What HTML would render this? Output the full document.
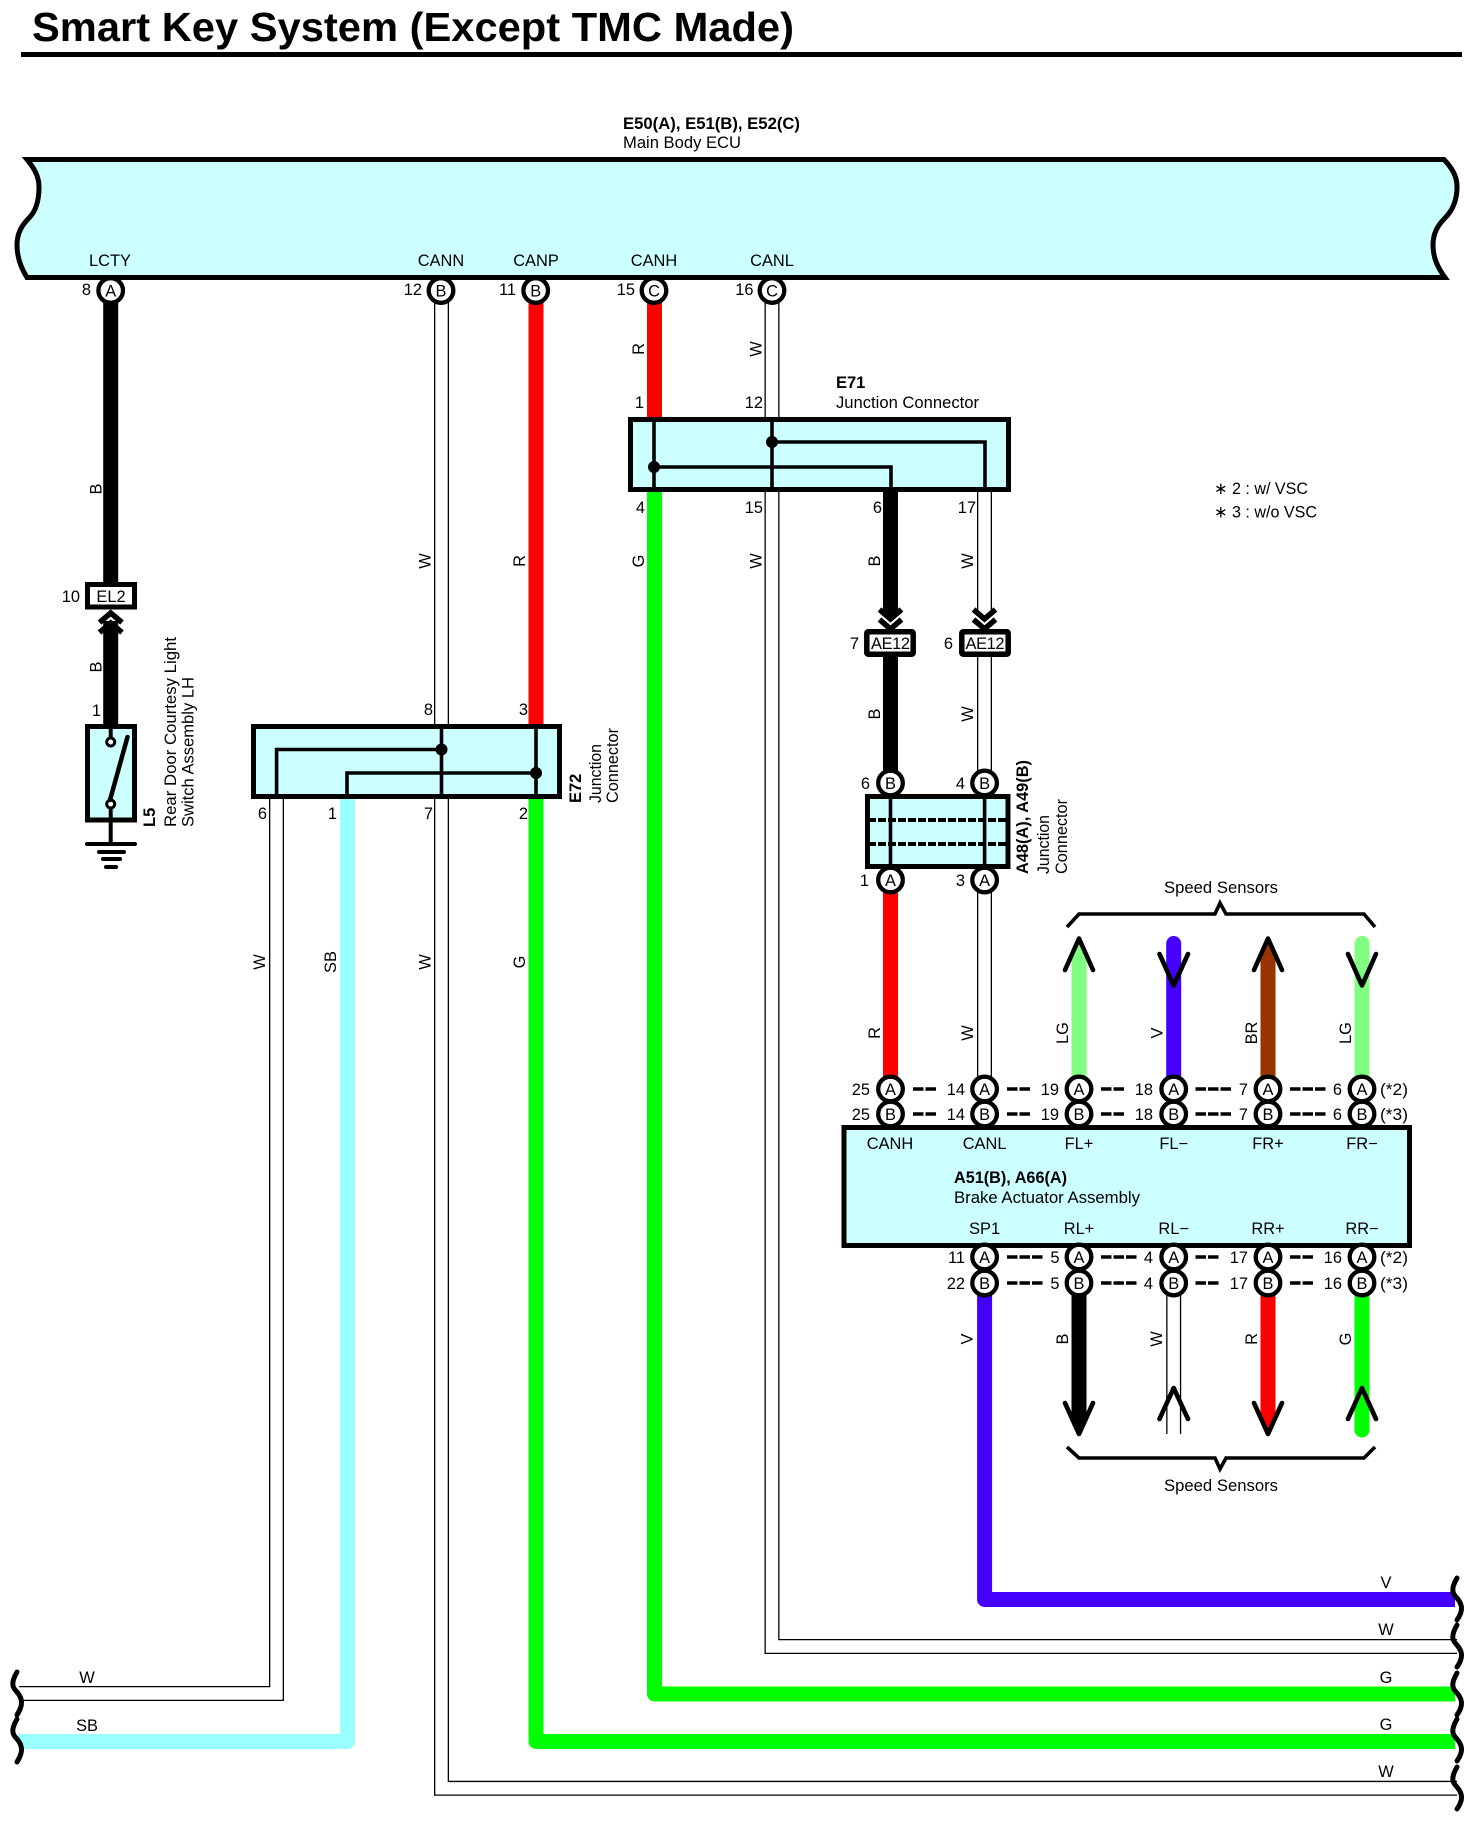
<!DOCTYPE html>
<html>
<head>
<meta charset="utf-8">
<title>Smart Key System (Except TMC Made)</title>
<style>
html,body{margin:0;padding:0;background:#fff;width:1476px;height:1822px;overflow:hidden}
svg{display:block}
text{font-family:"Liberation Sans",Arial,sans-serif;font-size:16.4px;fill:#000}
.m{text-anchor:middle}
.r{text-anchor:end}
.b{font-weight:bold;font-size:16.5px}
.wire{fill:none;stroke-linejoin:round}
.wb{fill:none;stroke:#000;stroke-width:15;stroke-linejoin:miter}
.ww{fill:none;stroke:#fff;stroke-width:12.4;stroke-linejoin:miter}
.box{fill:#ccffff;stroke:#000;stroke-width:5}
.in{fill:none;stroke:#000;stroke-width:3.6}
.pin circle{fill:#fff;stroke:#000;stroke-width:4.3}
.arr{fill:none;stroke:#000;stroke-width:4.6;stroke-linecap:round;stroke-linejoin:round}
.chev{fill:none;stroke:#000;stroke-width:5.5;stroke-linejoin:miter}
.dash{fill:none;stroke:#000;stroke-width:3.4;stroke-dasharray:10.5 2}
.sq{fill:none;stroke:#000;stroke-width:5;stroke-linecap:round}
</style>
</head>
<body>
<svg width="1476" height="1822" viewBox="0 0 1476 1822" xmlns="http://www.w3.org/2000/svg">
<rect width="1476" height="1822" fill="#fff"/>

<!-- Title -->
<text x="32" y="41" textLength="762" lengthAdjust="spacingAndGlyphs" style="font-size:41px;font-weight:bold">Smart Key System (Except TMC Made)</text>
<rect x="21" y="52" width="1441" height="5" fill="#000"/>

<!-- Main ECU -->
<text x="623" y="129" textLength="177" lengthAdjust="spacingAndGlyphs" class="b">E50(A), E51(B), E52(C)</text>
<text x="623" y="148" textLength="118" lengthAdjust="spacingAndGlyphs">Main Body ECU</text>
<path d="M27 159.5 L1444 159.5 C1452 168 1457 176 1457 187 C1457 203 1451 212 1445 218 C1438 225 1433 233 1433 245 C1433 258 1438 268 1445 277.5 L27 277.5 C21 268 17 258 17 245 C17 233 22 225 29 218 C35 212 39 203 39 187 C39 176 34 168 27 159.5 Z" fill="#ccffff" stroke="#000" stroke-width="5"/>

<!-- Coloured wires -->
<g class="wire" stroke-width="15">
  <path d="M110.7 289 V582" stroke="#000"/>
  <path d="M110.7 621 V726" stroke="#000"/>
  <path d="M536 289 V726" stroke="#ff0000"/>
  <path d="M654.5 289 V419" stroke="#ff0000"/>
  <path d="M654.5 490 V1694 H1455" stroke="#00ff00"/>
  <path d="M536 797 V1741.5 H1455" stroke="#00ff00"/>
  <path d="M18 1741.5 H347.5 V797" stroke="#99ffff"/>
  <path d="M984.6 1283 V1599.5 H1455" stroke="#4400ff"/>
  <path d="M890.5 490 V616" stroke="#000"/>
  <path d="M890.5 655 V783" stroke="#000"/>
  <path d="M890.5 880 V1089" stroke="#ff0000"/>
  <path d="M1173.7 943.5 V1089" stroke="#4400ff" stroke-linecap="round"/>
  <path d="M1362 943.5 V1089" stroke="#80ff80" stroke-linecap="round"/>
  <path d="M1362 1283 V1430" stroke="#00ff00" stroke-linecap="round"/>
</g>
<!-- Wires tapered into arrow heads -->
<path d="M1071.5 1089 V955 L1079 938.5 L1086.5 955 V1089 Z" fill="#80ff80"/>
<path d="M1260.5 1089 V955 L1268 938.5 L1275.5 955 V1089 Z" fill="#993300"/>
<path d="M1071.5 1283 V1418 L1079 1434 L1086.5 1418 V1283 Z" fill="#000"/>
<path d="M1260.5 1283 V1418 L1268 1434 L1275.5 1418 V1283 Z" fill="#ff0000"/>

<!-- White wires (double outlines) -->
<path class="wb" d="M441.5 289 V1788.3 H1457"/><path class="ww" d="M441.5 289 V1788.3 H1457.5"/>
<path class="wb" d="M772 289 V1646.5 H1457"/><path class="ww" d="M772 289 V1646.5 H1457.5"/>
<path class="wb" d="M276.5 797 V1693.5 H19"/><path class="ww" d="M276.5 797 V1693.5 H18.5"/>
<path class="wb" d="M984.5 490 V616"/><path class="ww" d="M984.5 490 V616"/>
<path class="wb" d="M984.5 655 V783"/><path class="ww" d="M984.5 655 V783"/>
<path class="wb" d="M984.5 880 V1089"/><path class="ww" d="M984.5 880 V1089"/>
<path class="wb" d="M1173.7 1283 V1434"/><path class="ww" d="M1173.7 1283 V1434.5"/>

<!-- Squiggles -->
<g class="sq">
  <path d="M1457 1578 C1450 1590 1453 1594 1457 1598 C1462 1604 1464 1610 1457 1620"/>
  <path d="M1457 1625 C1450 1637 1453 1641 1457 1645 C1462 1651 1464 1657 1457 1667"/>
  <path d="M1457 1673 C1450 1685 1453 1689 1457 1693 C1462 1699 1464 1705 1457 1715"/>
  <path d="M1457 1719 C1450 1731 1453 1735 1457 1739 C1462 1745 1464 1751 1457 1761"/>
  <path d="M1457 1767 C1450 1779 1453 1783 1457 1787 C1462 1793 1464 1799 1457 1809"/>
  <path d="M17 1672 C10 1684 13 1688 17 1692 C22 1698 24 1704 17 1715"/>
  <path d="M17 1719 C10 1731 13 1735 17 1739 C22 1745 24 1751 17 1762"/>
</g>

<!-- EL2 and chevrons -->
<rect x="87.5" y="584.5" width="47" height="22.5" fill="#fff" stroke="#000" stroke-width="5"/>
<path class="chev" d="M99.5 622.5 L110.7 613 L122 622.5"/>
<path class="chev" d="M99.5 632.5 L110.7 623 L122 632.5"/>

<!-- L5 switch -->
<rect x="87.5" y="726.5" width="47" height="93.5" class="box"/>
<path d="M110.7 724 V738" stroke="#000" stroke-width="4" fill="none"/>
<circle cx="110.7" cy="742" r="4" fill="#fff" stroke="#000" stroke-width="3"/>
<circle cx="110.7" cy="804" r="4" fill="#fff" stroke="#000" stroke-width="3"/>
<path d="M110 800 L127.5 737" stroke="#000" stroke-width="4.5" fill="none" stroke-linecap="round"/>
<path d="M110.7 808 V844" stroke="#000" stroke-width="4" fill="none"/>
<g stroke="#000" stroke-width="4" stroke-linecap="round">
  <path d="M87 844 H135"/>
  <path d="M99 852 H124"/>
  <path d="M103 859 H120"/>
  <path d="M106 867 H116"/>
</g>

<!-- E72 -->
<rect x="253.5" y="726.5" width="306" height="70" class="box"/>
<path class="in" d="M441.5 726 V797"/>
<path class="in" d="M536 726 V797"/>
<path class="in" d="M276.6 797 V749.5 H441.5"/>
<path class="in" d="M347 797 V773 H536"/>
<circle cx="441.5" cy="749.5" r="6" fill="#000"/>
<circle cx="536" cy="773" r="6" fill="#000"/>

<!-- E71 -->
<rect x="630.5" y="419.5" width="378" height="70" class="box"/>
<path class="in" d="M654 419 V490"/>
<path class="in" d="M772 419 V490"/>
<path class="in" d="M772 442 H985 V490"/>
<path class="in" d="M654 467 H891 V490"/>
<circle cx="772" cy="442" r="6" fill="#000"/>
<circle cx="654" cy="467" r="6" fill="#000"/>

<!-- AE12 -->
<path class="chev" d="M879.5 609.5 L890.5 619 L901.5 609.5"/>
<path class="chev" d="M879.5 619.5 L890.5 629 L901.5 619.5"/>
<path class="chev" d="M973.5 609.5 L984.5 619 L995.5 609.5"/>
<path class="chev" d="M973.5 619.5 L984.5 629 L995.5 619.5"/>
<rect x="866.8" y="631.8" width="46.4" height="22.4" rx="1.5" fill="#fff" stroke="#000" stroke-width="5.5"/>
<rect x="961.8" y="631.8" width="46.4" height="22.4" rx="1.5" fill="#fff" stroke="#000" stroke-width="5.5"/>

<!-- A48/A49 -->
<rect x="867.5" y="796.5" width="140.5" height="70" class="box"/>
<path class="in" d="M890.5 796 V867"/>
<path class="in" d="M984.6 796 V867"/>
<path d="M868 820 H1008" stroke="#000" stroke-width="4" stroke-dasharray="8 2" fill="none"/>
<path d="M868 844 H1008" stroke="#000" stroke-width="4" stroke-dasharray="8 2" fill="none"/>

<!-- Brake actuator -->
<rect x="844" y="1127.5" width="565.5" height="118" class="box"/>

<!-- Arrows: upper -->
<path class="arr" d="M1065 970 L1079 938.5 L1093 970"/>
<path class="arr" d="M1159.5 954 L1173.7 985.5 L1188 954"/>
<path class="arr" d="M1254 970 L1268 938.5 L1282 970"/>
<path class="arr" d="M1348 954 L1362 985.5 L1376 954"/>
<!-- Arrows: lower -->
<path class="arr" d="M1065 1403 L1079 1434 L1093 1403"/>
<path class="arr" d="M1159.5 1419 L1173.7 1388 L1188 1419"/>
<path class="arr" d="M1254 1403 L1268 1434 L1282 1403"/>
<path class="arr" d="M1348 1419 L1362 1388 L1376 1419"/>

<!-- Braces -->
<path d="M1067 927 L1079 914 H1215 L1220 903 L1226 914 H1364 L1375 927" fill="none" stroke="#000" stroke-width="3.6"/>
<path d="M1067 1447 L1079 1458 H1215 L1220 1469 L1226 1458 H1364 L1375 1447" fill="none" stroke="#000" stroke-width="3.6"/>

<!-- Dashes -->
<g class="dash">
  <path d="M913 1089 H936"/><path d="M1007 1089 H1030.5"/><path d="M1101 1089 H1125"/><path d="M1195.5 1089 H1232"/><path d="M1290 1089 H1326"/>
  <path d="M913 1114 H936"/><path d="M1007 1114 H1030.5"/><path d="M1101 1114 H1125"/><path d="M1195.5 1114 H1232"/><path d="M1290 1114 H1326"/>
  <path d="M1007 1257 H1042.5"/><path d="M1101 1257 H1137"/><path d="M1195.5 1257 H1220"/><path d="M1290 1257 H1314"/>
  <path d="M1007 1283 H1042.5"/><path d="M1101 1283 H1137"/><path d="M1195.5 1283 H1220"/><path d="M1290 1283 H1314"/>
</g>

<!-- Pin circles -->
<g class="pin">
  <circle cx="110.7" cy="290.5" r="12.3"/><circle cx="441" cy="290.5" r="12.3"/><circle cx="535.7" cy="290.5" r="12.3"/><circle cx="654" cy="290.5" r="12.3"/><circle cx="772" cy="290.5" r="12.3"/>
  <circle cx="890.5" cy="783" r="12.3"/><circle cx="984.6" cy="783" r="12.3"/>
  <circle cx="890.5" cy="880" r="12.3"/><circle cx="984.6" cy="880" r="12.3"/>
  <circle cx="890.5" cy="1114" r="12.3"/><circle cx="984.6" cy="1114" r="12.3"/><circle cx="1079" cy="1114" r="12.3"/><circle cx="1173.7" cy="1114" r="12.3"/><circle cx="1268" cy="1114" r="12.3"/><circle cx="1362" cy="1114" r="12.3"/>
  <circle cx="890.5" cy="1089" r="12.3"/><circle cx="984.6" cy="1089" r="12.3"/><circle cx="1079" cy="1089" r="12.3"/><circle cx="1173.7" cy="1089" r="12.3"/><circle cx="1268" cy="1089" r="12.3"/><circle cx="1362" cy="1089" r="12.3"/>
  <circle cx="984.6" cy="1283" r="12.3"/><circle cx="1079" cy="1283" r="12.3"/><circle cx="1173.7" cy="1283" r="12.3"/><circle cx="1268" cy="1283" r="12.3"/><circle cx="1362" cy="1283" r="12.3"/>
  <circle cx="984.6" cy="1257" r="12.3"/><circle cx="1079" cy="1257" r="12.3"/><circle cx="1173.7" cy="1257" r="12.3"/><circle cx="1268" cy="1257" r="12.3"/><circle cx="1362" cy="1257" r="12.3"/>
</g>

<!-- Pin letters -->
<g>
  <text class="m" x="110.7" y="296.5">A</text><text class="m" x="441" y="296.5">B</text><text class="m" x="535.7" y="296.5">B</text><text class="m" x="654" y="296.5">C</text><text class="m" x="772" y="296.5">C</text>
  <text class="m" x="890.5" y="789">B</text><text class="m" x="984.6" y="789">B</text>
  <text class="m" x="890.5" y="886">A</text><text class="m" x="984.6" y="886">A</text>
  <text class="m" x="890.5" y="1095">A</text><text class="m" x="984.6" y="1095">A</text><text class="m" x="1079" y="1095">A</text><text class="m" x="1173.7" y="1095">A</text><text class="m" x="1268" y="1095">A</text><text class="m" x="1362" y="1095">A</text>
  <text class="m" x="890.5" y="1120">B</text><text class="m" x="984.6" y="1120">B</text><text class="m" x="1079" y="1120">B</text><text class="m" x="1173.7" y="1120">B</text><text class="m" x="1268" y="1120">B</text><text class="m" x="1362" y="1120">B</text>
  <text class="m" x="984.6" y="1263">A</text><text class="m" x="1079" y="1263">A</text><text class="m" x="1173.7" y="1263">A</text><text class="m" x="1268" y="1263">A</text><text class="m" x="1362" y="1263">A</text>
  <text class="m" x="984.6" y="1289">B</text><text class="m" x="1079" y="1289">B</text><text class="m" x="1173.7" y="1289">B</text><text class="m" x="1268" y="1289">B</text><text class="m" x="1362" y="1289">B</text>
</g>

<!-- ECU pin names -->
<text class="m" x="110" y="266">LCTY</text>
<text class="m" x="441" y="266">CANN</text>
<text class="m" x="536" y="266">CANP</text>
<text class="m" x="654" y="266">CANH</text>
<text class="m" x="772" y="266">CANL</text>
<!-- ECU pin numbers -->
<text class="r" x="91" y="295">8</text>
<text class="r" x="422" y="295">12</text>
<text class="r" x="516" y="295">11</text>
<text class="r" x="635" y="295">15</text>
<text class="r" x="753.5" y="295">16</text>

<!-- EL2 -->
<text class="m" x="111" y="602">EL2</text>
<text class="r" x="80" y="602">10</text>
<text class="r" x="101" y="716">1</text>

<!-- E72 numbers -->
<text class="r" x="433" y="715">8</text>
<text class="r" x="528" y="715">3</text>
<text class="r" x="267" y="819">6</text>
<text class="r" x="337" y="819">1</text>
<text class="r" x="433" y="819">7</text>
<text class="r" x="528" y="819">2</text>

<!-- E71 text -->
<text x="836" y="388" class="b">E71</text>
<text x="836" y="408" textLength="143" lengthAdjust="spacingAndGlyphs">Junction Connector</text>
<text class="r" x="644" y="408">1</text>
<text class="r" x="763" y="408">12</text>
<text class="r" x="645" y="513">4</text>
<text class="r" x="763" y="513">15</text>
<text class="r" x="882" y="513">6</text>
<text class="r" x="976" y="513">17</text>

<!-- AE12 text -->
<text class="m" x="890.5" y="649" textLength="39" lengthAdjust="spacing">AE12</text>
<text class="m" x="985" y="649" textLength="39" lengthAdjust="spacing">AE12</text>
<text class="r" x="859" y="649">7</text>
<text class="r" x="953" y="649">6</text>

<!-- A48 numbers -->
<text class="r" x="870" y="789">6</text>
<text class="r" x="965" y="789">4</text>
<text class="r" x="869" y="886">1</text>
<text class="r" x="965" y="886">3</text>

<!-- Notes -->
<text x="1214" y="494" textLength="94" lengthAdjust="spacingAndGlyphs">∗ 2 : w/ VSC</text>
<text x="1214" y="517.5" textLength="103" lengthAdjust="spacingAndGlyphs">∗ 3 : w/o VSC</text>

<!-- Speed sensors -->
<text x="1164" y="893" textLength="114" lengthAdjust="spacingAndGlyphs">Speed Sensors</text>
<text x="1164" y="1491" textLength="114" lengthAdjust="spacingAndGlyphs">Speed Sensors</text>

<!-- Row numbers -->
<text class="r" x="870" y="1095">25</text><text class="r" x="965" y="1095">14</text><text class="r" x="1059" y="1095">19</text><text class="r" x="1153" y="1095">18</text><text class="r" x="1248" y="1095">7</text><text class="r" x="1342" y="1095">6</text>
<text class="r" x="870" y="1120">25</text><text class="r" x="965" y="1120">14</text><text class="r" x="1059" y="1120">19</text><text class="r" x="1153" y="1120">18</text><text class="r" x="1248" y="1120">7</text><text class="r" x="1342" y="1120">6</text>
<text x="1380" y="1095" textLength="28" lengthAdjust="spacingAndGlyphs">(*2)</text><text x="1380" y="1120" textLength="28" lengthAdjust="spacingAndGlyphs">(*3)</text>
<text class="r" x="965" y="1263">11</text><text class="r" x="1059.5" y="1263">5</text><text class="r" x="1153" y="1263">4</text><text class="r" x="1248" y="1263">17</text><text class="r" x="1342" y="1263">16</text>
<text class="r" x="965" y="1289">22</text><text class="r" x="1059.5" y="1289">5</text><text class="r" x="1153" y="1289">4</text><text class="r" x="1248" y="1289">17</text><text class="r" x="1342" y="1289">16</text>
<text x="1380" y="1263" textLength="28" lengthAdjust="spacingAndGlyphs">(*2)</text><text x="1380" y="1289" textLength="28" lengthAdjust="spacingAndGlyphs">(*3)</text>

<!-- Brake box labels -->
<text class="m" x="890" y="1149">CANH</text><text class="m" x="984.6" y="1149">CANL</text><text class="m" x="1079" y="1149">FL+</text><text class="m" x="1173.7" y="1149">FL−</text><text class="m" x="1268" y="1149">FR+</text><text class="m" x="1362" y="1149">FR−</text>
<text x="954" y="1183" class="b" textLength="113" lengthAdjust="spacingAndGlyphs">A51(B), A66(A)</text>
<text x="954" y="1203" textLength="186" lengthAdjust="spacingAndGlyphs">Brake Actuator Assembly</text>
<text class="m" x="984.6" y="1234">SP1</text><text class="m" x="1079" y="1234">RL+</text><text class="m" x="1173.7" y="1234">RL−</text><text class="m" x="1268" y="1234">RR+</text><text class="m" x="1362" y="1234">RR−</text>

<!-- Horizontal wire labels -->
<text class="m" x="1386" y="1588">V</text>
<text class="m" x="1386" y="1635">W</text>
<text class="m" x="1386" y="1683">G</text>
<text class="m" x="1386" y="1730">G</text>
<text class="m" x="1386" y="1777">W</text>
<text class="m" x="87" y="1683">W</text>
<text class="m" x="87" y="1731">SB</text>

<!-- Rotated wire labels -->
<g>
  <text class="m" transform="translate(101.7 489) rotate(-90)">B</text>
  <text class="m" transform="translate(101.7 667) rotate(-90)">B</text>
  <text class="m" transform="translate(644 349) rotate(-90)">R</text>
  <text class="m" transform="translate(761.5 349) rotate(-90)">W</text>
  <text class="m" transform="translate(430.5 561) rotate(-90)">W</text>
  <text class="m" transform="translate(525 561) rotate(-90)">R</text>
  <text class="m" transform="translate(644 561) rotate(-90)">G</text>
  <text class="m" transform="translate(761.5 561) rotate(-90)">W</text>
  <text class="m" transform="translate(880 561) rotate(-90)">B</text>
  <text class="m" transform="translate(973 561) rotate(-90)">W</text>
  <text class="m" transform="translate(880 714) rotate(-90)">B</text>
  <text class="m" transform="translate(973 714) rotate(-90)">W</text>
  <text class="m" transform="translate(265 962) rotate(-90)">W</text>
  <text class="m" transform="translate(336 962) rotate(-90)">SB</text>
  <text class="m" transform="translate(430.5 962) rotate(-90)">W</text>
  <text class="m" transform="translate(525 962) rotate(-90)">G</text>
  <text class="m" transform="translate(880 1033) rotate(-90)">R</text>
  <text class="m" transform="translate(973 1033) rotate(-90)">W</text>
  <text class="m" transform="translate(1068 1033) rotate(-90)">LG</text>
  <text class="m" transform="translate(1162.5 1033) rotate(-90)">V</text>
  <text class="m" transform="translate(1257 1033) rotate(-90)">BR</text>
  <text class="m" transform="translate(1351 1033) rotate(-90)">LG</text>
  <text class="m" transform="translate(972.5 1339) rotate(-90)">V</text>
  <text class="m" transform="translate(1068 1339) rotate(-90)">B</text>
  <text class="m" transform="translate(1162 1339) rotate(-90)">W</text>
  <text class="m" transform="translate(1257 1339) rotate(-90)">R</text>
  <text class="m" transform="translate(1351 1339) rotate(-90)">G</text>
</g>

<!-- Rotated component labels -->
<text class="b" transform="translate(155 827) rotate(-90)">L5</text>
<text transform="translate(176 827) rotate(-90)" textLength="190" lengthAdjust="spacingAndGlyphs">Rear Door Courtesy Light</text>
<text transform="translate(193.5 827) rotate(-90)" textLength="150" lengthAdjust="spacingAndGlyphs">Switch Assembly LH</text>
<text class="b" transform="translate(581 803) rotate(-90)">E72</text>
<text transform="translate(601 803) rotate(-90)" textLength="59" lengthAdjust="spacingAndGlyphs">Junction</text>
<text transform="translate(618 803) rotate(-90)" textLength="75" lengthAdjust="spacingAndGlyphs">Connector</text>
<text class="b" transform="translate(1028 874) rotate(-90)" textLength="114" lengthAdjust="spacingAndGlyphs">A48(A), A49(B)</text>
<text transform="translate(1049 874) rotate(-90)" textLength="59" lengthAdjust="spacingAndGlyphs">Junction</text>
<text transform="translate(1067 874) rotate(-90)" textLength="75" lengthAdjust="spacingAndGlyphs">Connector</text>
</svg>
</body>
</html>
